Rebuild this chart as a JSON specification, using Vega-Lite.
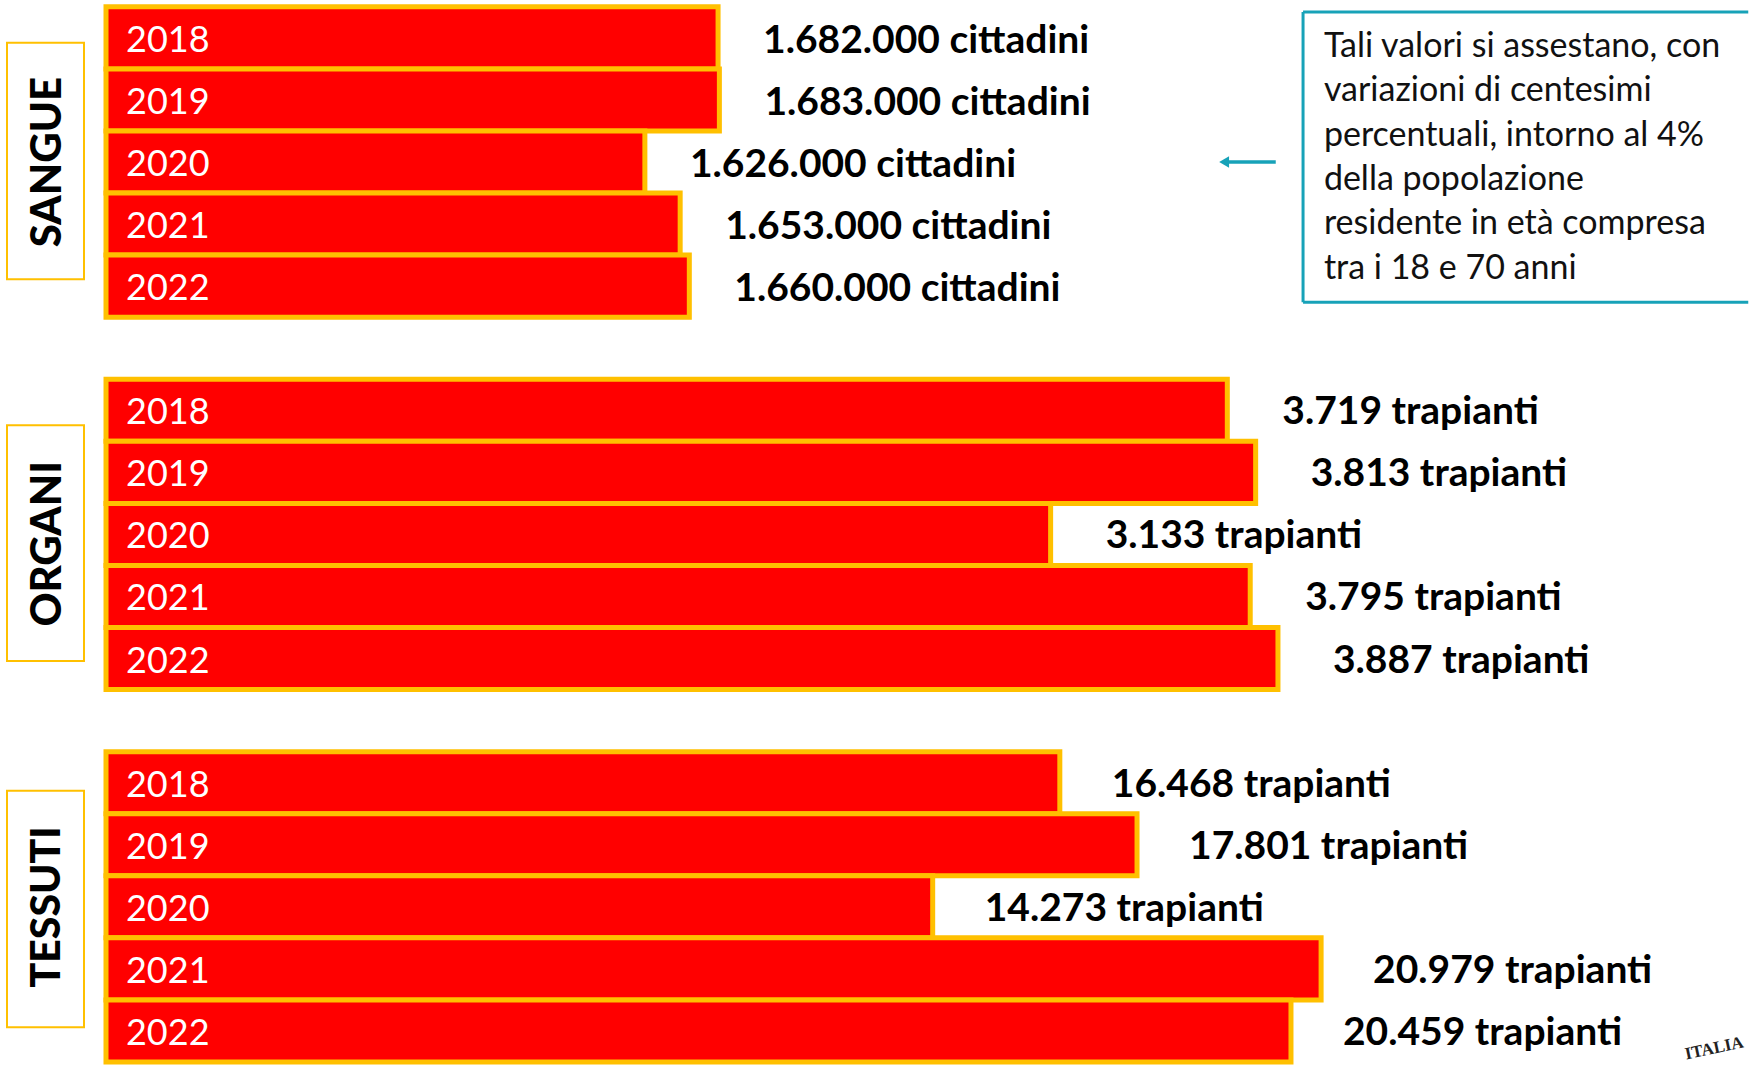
{
  "$schema": "https://vega.github.io/schema/vega-lite/v6.json",
  "width": 1750,
  "height": 1065,
  "autosize": {"type": "fit", "contains": "padding"},
  "padding": 0,
  "background": "white",
  "config": {"view": {"stroke": null}},
  "datasets": {
    "bars": [
      {"group": "SANGUE", "year": "2018", "row": "SANGUE 2018", "value": 1682000, "label": "1.682.000 cittadini"},
      {"group": "SANGUE", "year": "2019", "row": "SANGUE 2019", "value": 1683000, "label": "1.683.000 cittadini"},
      {"group": "SANGUE", "year": "2020", "row": "SANGUE 2020", "value": 1626000, "label": "1.626.000 cittadini"},
      {"group": "SANGUE", "year": "2021", "row": "SANGUE 2021", "value": 1653000, "label": "1.653.000 cittadini"},
      {"group": "SANGUE", "year": "2022", "row": "SANGUE 2022", "value": 1660000, "label": "1.660.000 cittadini"},
      {"group": "ORGANI", "year": "2018", "row": "ORGANI 2018", "value": 3719, "label": "3.719 trapianti"},
      {"group": "ORGANI", "year": "2019", "row": "ORGANI 2019", "value": 3813, "label": "3.813 trapianti"},
      {"group": "ORGANI", "year": "2020", "row": "ORGANI 2020", "value": 3133, "label": "3.133 trapianti"},
      {"group": "ORGANI", "year": "2021", "row": "ORGANI 2021", "value": 3795, "label": "3.795 trapianti"},
      {"group": "ORGANI", "year": "2022", "row": "ORGANI 2022", "value": 3887, "label": "3.887 trapianti"},
      {"group": "TESSUTI", "year": "2018", "row": "TESSUTI 2018", "value": 16468, "label": "16.468 trapianti"},
      {"group": "TESSUTI", "year": "2019", "row": "TESSUTI 2019", "value": 17801, "label": "17.801 trapianti"},
      {"group": "TESSUTI", "year": "2020", "row": "TESSUTI 2020", "value": 14273, "label": "14.273 trapianti"},
      {"group": "TESSUTI", "year": "2021", "row": "TESSUTI 2021", "value": 20979, "label": "20.979 trapianti"},
      {"group": "TESSUTI", "year": "2022", "row": "TESSUTI 2022", "value": 20459, "label": "20.459 trapianti"}
    ],
    "groups": [
      {"group": "SANGUE"},
      {"group": "ORGANI"},
      {"group": "TESSUTI"}
    ],
    "note": [
      {"text": ["Tali valori si assestano, con", "variazioni di centesimi", "percentuali, intorno al 4%", "della popolazione", "residente in età compresa", "tra i 18 e 70 anni"], "seal": "ITALIA"}
    ]
  },
  "resolve": {"scale": {"x": "independent"}},
  "layer": [
    {
      "data": {"name": "bars"},
      "transform": [{"filter": "datum.group === 'SANGUE'"}],
      "layer": [
        {
          "mark": {"type": "bar", "fill": "#FF0000", "stroke": "#FFC000", "strokeWidth": 5},
          "encoding": {
            "y": {"field": "row", "type": "nominal", "axis": null, "scale": {"domain": ["SANGUE 2018","SANGUE 2019","SANGUE 2020","SANGUE 2021","SANGUE 2022","gap1","ORGANI 2018","ORGANI 2019","ORGANI 2020","ORGANI 2021","ORGANI 2022","gap2","TESSUTI 2018","TESSUTI 2019","TESSUTI 2020","TESSUTI 2021","TESSUTI 2022"], "paddingInner": 0, "paddingOuter": 0.055, "align": 1}},
            "x": {"field": "value", "type": "quantitative", "axis": null, "scale": {"domain": [1132598, 2471542], "zero": false, "nice": false}},
            "x2": {"datum": 1213700}
          }
        },
        {
          "mark": {"type": "text", "align": "left", "baseline": "middle", "dx": 20, "dy": 3, "color": "white", "font": "Lato", "fontSize": 36},
          "encoding": {
            "y": {"field": "row", "type": "nominal", "axis": null},
            "x": {"datum": 1213700, "type": "quantitative"},
            "text": {"field": "year"}
          }
        },
        {
          "mark": {"type": "text", "align": "left", "baseline": "middle", "dx": 45, "dy": 3, "color": "black", "font": "Lato", "fontWeight": "bold", "fontSize": 39},
          "encoding": {
            "y": {"field": "row", "type": "nominal", "axis": null},
            "x": {"field": "value", "type": "quantitative"},
            "text": {"field": "label"}
          }
        }
      ]
    },
    {
      "data": {"name": "bars"},
      "transform": [{"filter": "datum.group === 'ORGANI'"}],
      "layer": [
        {
          "mark": {"type": "bar", "fill": "#FF0000", "stroke": "#FFC000", "strokeWidth": 5},
          "encoding": {
            "y": {"field": "row", "type": "nominal", "axis": null},
            "x": {"field": "value", "type": "quantitative", "axis": null, "scale": {"domain": [-351.6, 5452.6], "zero": false, "nice": false}},
            "x2": {"datum": 0}
          }
        },
        {
          "mark": {"type": "text", "align": "left", "baseline": "middle", "dx": 20, "dy": 3, "color": "white", "font": "Lato", "fontSize": 36},
          "encoding": {
            "y": {"field": "row", "type": "nominal", "axis": null},
            "x": {"datum": 0, "type": "quantitative"},
            "text": {"field": "year"}
          }
        },
        {
          "mark": {"type": "text", "align": "left", "baseline": "middle", "dx": 55, "dy": 2, "color": "black", "font": "Lato", "fontWeight": "bold", "fontSize": 39},
          "encoding": {
            "y": {"field": "row", "type": "nominal", "axis": null},
            "x": {"field": "value", "type": "quantitative"},
            "text": {"field": "label"}
          }
        }
      ]
    },
    {
      "data": {"name": "bars"},
      "transform": [{"filter": "datum.group === 'TESSUTI'"}],
      "layer": [
        {
          "mark": {"type": "bar", "fill": "#FF0000", "stroke": "#FFC000", "strokeWidth": 5},
          "encoding": {
            "y": {"field": "row", "type": "nominal", "axis": null},
            "x": {"field": "value", "type": "quantitative", "axis": null, "scale": {"domain": [-1830, 28384], "zero": false, "nice": false}},
            "x2": {"datum": 0}
          }
        },
        {
          "mark": {"type": "text", "align": "left", "baseline": "middle", "dx": 20, "dy": 3, "color": "white", "font": "Lato", "fontSize": 36},
          "encoding": {
            "y": {"field": "row", "type": "nominal", "axis": null},
            "x": {"datum": 0, "type": "quantitative"},
            "text": {"field": "year"}
          }
        },
        {
          "mark": {"type": "text", "align": "left", "baseline": "middle", "dx": 52, "dy": 2, "color": "black", "font": "Lato", "fontWeight": "bold", "fontSize": 39},
          "encoding": {
            "y": {"field": "row", "type": "nominal", "axis": null},
            "x": {"field": "value", "type": "quantitative"},
            "text": {"field": "label"}
          }
        }
      ]
    },
    {
      "layer": [
        {
          "data": {"name": "groups"},
          "transform": [{"filter": "datum.group === 'SANGUE'"}],
          "mark": {"type": "rect", "fill": "white", "stroke": "#FFC000", "strokeWidth": 2},
          "encoding": {
            "x": {"datum": 0.4, "type": "quantitative", "axis": null, "scale": {"domain": [0, 100], "zero": false, "nice": false}},
            "x2": {"datum": 4.8},
            "y": {"datum": "SANGUE 2018", "type": "nominal", "bandPosition": 0.58, "axis": null},
            "y2": {"datum": "SANGUE 2022", "bandPosition": 0.39}
          }
        },
        {
          "data": {"name": "groups"},
          "transform": [{"filter": "datum.group === 'ORGANI'"}],
          "mark": {"type": "rect", "fill": "white", "stroke": "#FFC000", "strokeWidth": 2},
          "encoding": {
            "x": {"datum": 0.4, "type": "quantitative"},
            "x2": {"datum": 4.8},
            "y": {"datum": "ORGANI 2018", "type": "nominal", "bandPosition": 0.74, "axis": null},
            "y2": {"datum": "ORGANI 2022", "bandPosition": 0.54}
          }
        },
        {
          "data": {"name": "groups"},
          "transform": [{"filter": "datum.group === 'TESSUTI'"}],
          "mark": {"type": "rect", "fill": "white", "stroke": "#FFC000", "strokeWidth": 2},
          "encoding": {
            "x": {"datum": 0.4, "type": "quantitative"},
            "x2": {"datum": 4.8},
            "y": {"datum": "TESSUTI 2018", "type": "nominal", "bandPosition": 0.63, "axis": null},
            "y2": {"datum": "TESSUTI 2022", "bandPosition": 0.44}
          }
        },
        {
          "data": {"name": "groups"},
          "transform": [{"filter": "datum.group === 'SANGUE'"}],
          "mark": {"type": "text", "angle": 270, "align": "center", "baseline": "middle", "font": "Lato", "fontWeight": 900, "fontSize": 42, "color": "black"},
          "encoding": {
            "x": {"datum": 2.75, "type": "quantitative"},
            "y": {"datum": "SANGUE 2020", "type": "nominal", "bandPosition": 0.5, "axis": null},
            "text": {"field": "group"}
          }
        },
        {
          "data": {"name": "groups"},
          "transform": [{"filter": "datum.group === 'ORGANI'"}],
          "mark": {"type": "text", "angle": 270, "align": "center", "baseline": "middle", "font": "Lato", "fontWeight": 900, "fontSize": 42, "color": "black"},
          "encoding": {
            "x": {"datum": 2.75, "type": "quantitative"},
            "y": {"datum": "ORGANI 2020", "type": "nominal", "bandPosition": 0.65, "axis": null},
            "text": {"field": "group"}
          }
        },
        {
          "data": {"name": "groups"},
          "transform": [{"filter": "datum.group === 'TESSUTI'"}],
          "mark": {"type": "text", "angle": 270, "align": "center", "baseline": "middle", "font": "Lato", "fontWeight": 900, "fontSize": 41, "color": "black"},
          "encoding": {
            "x": {"datum": 2.75, "type": "quantitative"},
            "y": {"datum": "TESSUTI 2020", "type": "nominal", "bandPosition": 0.5, "axis": null},
            "text": {"field": "group"}
          }
        },
        {
          "data": {"name": "note"},
          "mark": {"type": "rule", "color": "#17A2B8", "strokeWidth": 3},
          "encoding": {
            "x": {"datum": 74.46, "type": "quantitative"},
            "x2": {"datum": 99.9},
            "y": {"datum": "SANGUE 2018", "type": "nominal", "bandPosition": 0.083, "axis": null}
          }
        },
        {
          "data": {"name": "note"},
          "mark": {"type": "rule", "color": "#17A2B8", "strokeWidth": 3},
          "encoding": {
            "x": {"datum": 74.46, "type": "quantitative"},
            "x2": {"datum": 99.9},
            "y": {"datum": "SANGUE 2022", "type": "nominal", "bandPosition": 0.76, "axis": null}
          }
        },
        {
          "data": {"name": "note"},
          "mark": {"type": "rule", "color": "#17A2B8", "strokeWidth": 3},
          "encoding": {
            "x": {"datum": 74.46, "type": "quantitative"},
            "y": {"datum": "SANGUE 2018", "type": "nominal", "bandPosition": 0.083, "axis": null},
            "y2": {"datum": "SANGUE 2022", "bandPosition": 0.76}
          }
        },
        {
          "data": {"name": "note"},
          "mark": {"type": "text", "align": "left", "baseline": "middle", "font": "Lato", "fontSize": 34, "lineHeight": 44.4, "color": "#111111"},
          "encoding": {
            "x": {"datum": 75.65, "type": "quantitative"},
            "y": {"datum": "SANGUE 2018", "type": "nominal", "bandPosition": 0.645, "axis": null},
            "text": {"field": "text"}
          }
        },
        {
          "data": {"name": "note"},
          "mark": {"type": "rule", "color": "#17A2B8", "strokeWidth": 3.5},
          "encoding": {
            "x": {"datum": 69.9, "type": "quantitative"},
            "x2": {"datum": 72.9},
            "y": {"datum": "SANGUE 2020", "type": "nominal", "bandPosition": 0.5, "axis": null}
          }
        },
        {
          "data": {"name": "note"},
          "mark": {"type": "point", "shape": "triangle-left", "filled": true, "color": "#17A2B8", "size": 130, "opacity": 1},
          "encoding": {
            "x": {"datum": 69.95, "type": "quantitative"},
            "y": {"datum": "SANGUE 2020", "type": "nominal", "bandPosition": 0.5, "axis": null}
          }
        },
        {
          "data": {"name": "note"},
          "mark": {"type": "text", "align": "left", "baseline": "middle", "angle": -12, "font": "Liberation Serif", "fontWeight": "bold", "fontSize": 17, "color": "#222222"},
          "encoding": {
            "x": {"datum": 96.3, "type": "quantitative"},
            "y": {"datum": "TESSUTI 2022", "type": "nominal", "bandPosition": 0.88, "axis": null},
            "text": {"field": "seal"}
          }
        }
      ]
    }
  ]
}
